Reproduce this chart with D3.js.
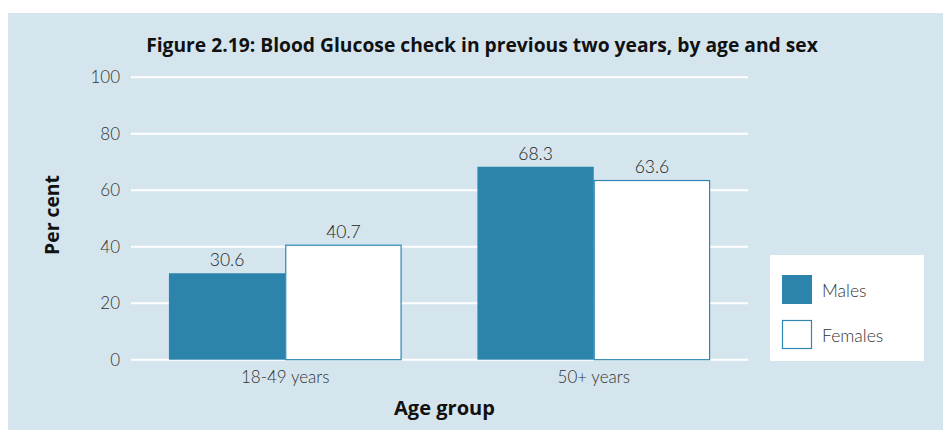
<!DOCTYPE html>
<html>
<head>
<meta charset="utf-8">
<script src="https://cdn.jsdelivr.net/npm/d3@7"></script>
<style>
  html, body { margin: 0; padding: 0; background: #ffffff; }
  svg { display: block; }
  text { font-family: Lato, "Open Sans", "Liberation Sans", sans-serif; }
  .bold { font-family: "Open Sans", "Noto Sans", "Liberation Sans", sans-serif; font-weight: bold; }
</style>
</head>
<body>
<div id="chart"></div>
<script>
// ---- Data ----
const categories = ["18-49 years", "50+ years"];
const seriesNames = ["Males", "Females"];
const malesValues = [30.6, 68.3];
const femalesValues = [40.7, 63.6];
const yTicks = [0, 20, 40, 60, 80, 100];
const titleText = "Figure 2.19: Blood Glucose check in previous two years, by age and sex";
const yAxisTitle = "Per cent";
const xAxisTitle = "Age group";

// ---- Layout ----
const W = 943, H = 430;
const plot = { left: 131, right: 748, top: 77.2, bottom: 359.7 };
const colors = { Males: "#2c84ac", Females: "#ffffff" };
const stroke = "#2f86b0";
const bg = "#d5e5ee";

const svg = d3.select("#chart").append("svg").attr("width", W).attr("height", H);

// fit a bold text's font size so that its width matches a target width
function fitWidth(sel, target, base) {
  sel.attr("font-size", base);
  const w = sel.node().getComputedTextLength();
  if (w > 0) sel.attr("font-size", (base * target / w).toFixed(2));
}

// Panel background
svg.append("rect").attr("x", 8).attr("y", 13).attr("width", W - 8).attr("height", H - 13).attr("fill", bg);

// Title
const title = svg.append("text")
  .attr("class", "bold")
  .attr("x", 482).attr("y", 51.5)
  .attr("text-anchor", "middle")
  .attr("fill", "#111")
  .text(titleText);
fitWidth(title, 672, 18);

// Scales
const y = d3.scaleLinear().domain([0, 100]).range([plot.bottom, plot.top]);
const x0 = d3.scaleBand().domain(categories).range([plot.left, plot.right]).paddingInner(0).paddingOuter(0);
const x1 = d3.scaleBand().domain(seriesNames).range([0, x0.bandwidth()]).paddingInner(0).paddingOuter(0.326);

// Gridlines
svg.append("g").selectAll("line").data(yTicks).join("line")
  .attr("x1", plot.left).attr("x2", plot.right)
  .attr("y1", d => y(d)).attr("y2", d => y(d))
  .attr("stroke", "#ffffff").attr("stroke-width", 2);

// Y axis labels
const yAxis = d3.axisLeft(y).tickValues(yTicks).tickSize(0).tickPadding(11);
const gy = svg.append("g").attr("transform", `translate(${plot.left},0)`).call(yAxis);
gy.select(".domain").remove();
gy.selectAll("text").attr("font-size", 17).attr("fill", "#333").attr("font-family", "Lato, sans-serif").attr("font-weight", 300);

// Rows
const rows = categories.map((c, i) => ({ cat: c, Males: malesValues[i], Females: femalesValues[i] }));

const groups = svg.append("g").selectAll("g").data(rows).join("g")
  .attr("transform", d => `translate(${x0(d.cat)},0)`);

groups.selectAll("rect").data(d => seriesNames.map(s => ({ s, v: d[s] }))).join("rect")
  .attr("x", d => x1(d.s) + (d.s === "Females" ? 0.5 : 0))
  .attr("y", d => y(d.v) + (d.s === "Females" ? 0.5 : 0))
  .attr("width", d => x1.bandwidth() - (d.s === "Females" ? 1 : 0))
  .attr("height", d => y(0) - y(d.v) - (d.s === "Females" ? 0.5 : 0))
  .attr("fill", d => colors[d.s])
  .attr("stroke", d => d.s === "Females" ? stroke : "none")
  .attr("stroke-width", 1.2);

groups.selectAll("text.val").data(d => seriesNames.map(s => ({ s, v: d[s] }))).join("text")
  .attr("class", "val")
  .attr("x", d => x1(d.s) + x1.bandwidth() / 2)
  .attr("y", d => y(d.v) - 7)
  .attr("text-anchor", "middle")
  .attr("font-size", 17.5).attr("font-weight", 300).attr("fill", "#222")
  .text(d => d.v.toFixed(1));

// X axis labels
const xAxis = d3.axisBottom(x0).tickSize(0).tickPadding(11);
const gx = svg.append("g").attr("transform", `translate(0,${plot.bottom})`).call(xAxis);
gx.select(".domain").remove();
gx.selectAll("text").attr("font-size", 17).attr("fill", "#333").attr("font-family", "Lato, sans-serif").attr("font-weight", 300);

// Axis titles
const yt = svg.append("text")
  .attr("class", "bold")
  .attr("transform", `translate(59,215) rotate(-90)`)
  .attr("text-anchor", "middle")
  .attr("fill", "#111")
  .text(yAxisTitle);
fitWidth(yt, 80, 19);

const xt = svg.append("text")
  .attr("class", "bold")
  .attr("x", 444.5).attr("y", 415)
  .attr("text-anchor", "middle")
  .attr("fill", "#111")
  .text(xAxisTitle);
fitWidth(xt, 101, 19);

// Legend
const lg = svg.append("g");
lg.append("rect").attr("x", 770).attr("y", 255).attr("width", 154).attr("height", 106).attr("fill", "#ffffff");
const legendItems = lg.selectAll("g").data(seriesNames).join("g")
  .attr("transform", (d, i) => `translate(782,${275 + i * 45})`);
legendItems.append("rect")
  .attr("x", d => d === "Females" ? 0.5 : 0).attr("y", d => d === "Females" ? 0.5 : 0)
  .attr("width", d => d === "Females" ? 29 : 30).attr("height", d => d === "Females" ? 28 : 29)
  .attr("fill", d => colors[d])
  .attr("stroke", d => d === "Females" ? stroke : "none").attr("stroke-width", 1.2);
legendItems.append("text")
  .attr("x", 40).attr("y", 16).attr("dy", "0.35em")
  .attr("font-size", 17.5).attr("font-weight", 300).attr("fill", "#333")
  .text(d => d);
</script>
</body>
</html>
